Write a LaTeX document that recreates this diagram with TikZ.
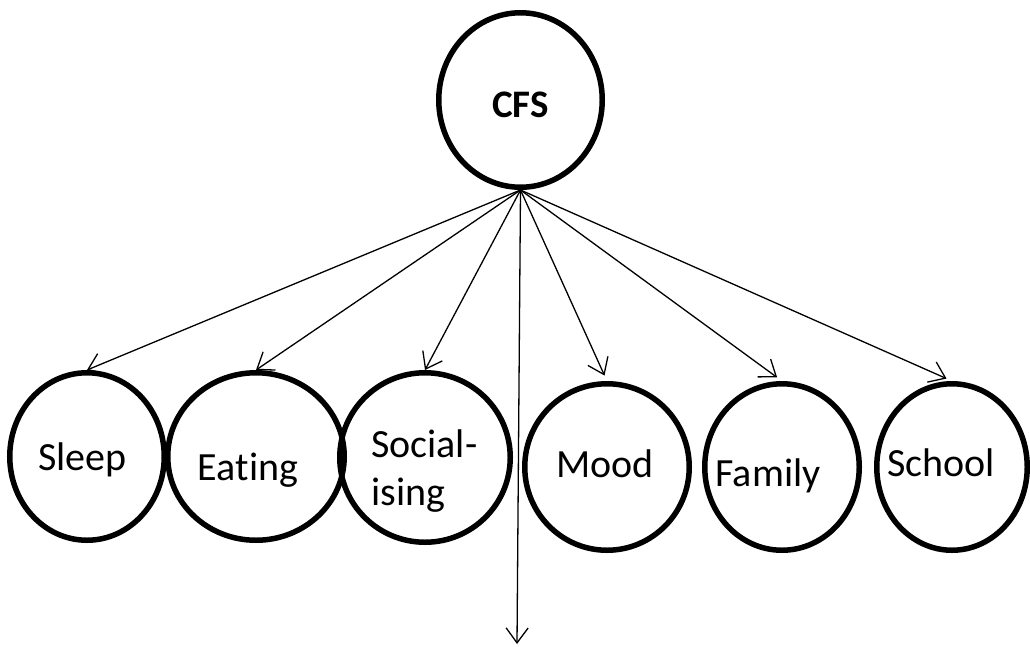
\documentclass[tikz,border=0pt]{standalone}
\usepackage{fontspec}
\setmainfont{Carlito}[Ligatures=NoCommon]
\usetikzlibrary{arrows.meta,shapes.geometric}

\tikzset{bubble/.style={ellipse,draw,line width=5.5pt,inner sep=0pt},
	word/.style={inner sep=0pt,anchor=base,font=\fontsize{40}{48}\selectfont},
	link/.style={line width=1.3pt,-{Straight Barb[length=15pt,width=22pt]}}}

\begin{document}
\begin{tikzpicture}[x=1pt,y=-1pt]
		\useasboundingbox (0,0) rectangle (1030,646);
		\node[bubble,minimum width=163.5pt,minimum height=174.5pt] (cfs) at (520.5,100) {};
		\node[bubble,minimum width=154.5pt,minimum height=167.5pt] (sleep) at (87,456.5) {};
		\node[bubble,minimum width=176.5pt,minimum height=167.5pt] (eating) at (256,456.5) {};
		\node[bubble,minimum width=170.5pt,minimum height=169.5pt] (social) at (425,457.5) {};
		\node[bubble,minimum width=164.5pt,minimum height=166.5pt] (mood) at (607,467) {};
		\node[bubble,minimum width=154.5pt,minimum height=166.5pt] (family) at (782,467) {};
		\node[bubble,minimum width=150.5pt,minimum height=166.5pt] (school) at (952,467) {};
		\coordinate (down) at (517,644);
		\node[word,font=\fontsize{39}{42}\selectfont\bfseries] (cfstext) at (520.5,117) {CFS};
		\node[word] (sleeptext) at (82.5,470) {Sleep};
		\node[word] (eatingtext) at (248,480) {Eating};
		\node[word,anchor=north west,align=left] (socialtext) at (371,430) {Social-\\ising};
		\node[word] (moodtext) at (605,477) {Mood};
		\node[word] (familytext) at (768,486) {Family};
		\node[word] (schooltext) at (941,476) {School};
		\draw[link] (cfs.south) -- (sleep.north);
		\draw[link] (cfs.south) -- (eating.north);
		\draw[link] (cfs.south) -- (social.north);
		\draw[link] (cfs.south) -- (down);
		\draw[link,shorten >=6pt] (cfs.south) -- (mood.north);
		\draw[link,shorten >=6pt] (cfs.south) -- (family.north);
		\draw[link,shorten >=6pt] (cfs.south) -- (school.north);
 	 \end{tikzpicture}
\end{document}
